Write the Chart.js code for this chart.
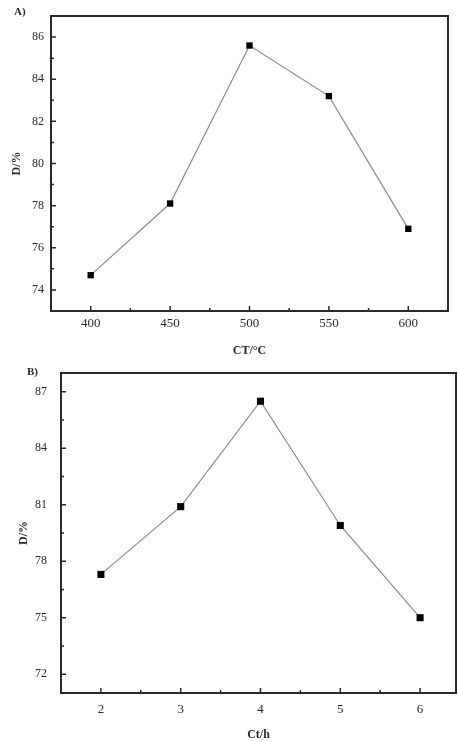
<!DOCTYPE html>
<html>
<head>
<meta charset="utf-8">
<script src="https://cdn.jsdelivr.net/npm/chart.js@4.4.1/dist/chart.umd.min.js"></script>
<style>
  html, body { margin: 0; padding: 0; background: #fff; overflow: hidden; }
  .panel { position: absolute; left: 0; }
  #wrapA { top: 0; width: 458px; height: 362px; }
  #wrapB { top: 362px; width: 458px; height: 380px; }
</style>
</head>
<body>
<div class="panel" id="wrapA"><canvas id="chartA"></canvas></div>
<div class="panel" id="wrapB"><canvas id="chartB"></canvas></div>
<script>
// Panel A: calcination temperature vs D/%
const tempCT = [400, 450, 500, 550, 600];
const dByTemp = [74.7, 78.1, 85.6, 83.2, 76.9];
const tempTicks = [400, 450, 500, 550, 600];
const dTicksA = [74, 76, 78, 80, 82, 84, 86];

// Panel B: calcination time vs D/%
const timeCt = [2, 3, 4, 5, 6];
const dByTime = [77.3, 80.9, 86.5, 79.9, 75.0];
const timeTicks = [2, 3, 4, 5, 6];
const dTicksB = [72, 75, 78, 81, 84, 87];

const SERIF = '"Liberation Serif", "DejaVu Serif", serif';
const INK = '#2a2a2a';

// Frame around the plot area plus inward major/minor tick marks
const frameTicks = {
  id: 'frameTicks',
  afterDraw(chart) {
    const { ctx, chartArea: a, scales } = chart;
    const xs = scales.x, ys = scales.y;
    ctx.save();
    ctx.strokeStyle = INK;
    ctx.lineWidth = 2;
    ctx.strokeRect(a.left, a.top, a.right - a.left, a.bottom - a.top);
    ctx.lineWidth = 1.5;
    const xMaj = xs.ticks.map(t => t.value);
    const yMaj = ys.ticks.map(t => t.value);
    const mids = arr => arr.slice(1).map((v, i) => (v + arr[i]) / 2);
    const xMin = mids(xMaj), yMin = mids(yMaj);
    ctx.beginPath();
    xMaj.forEach(v => { const p = xs.getPixelForValue(v); ctx.moveTo(p, a.bottom); ctx.lineTo(p, a.bottom - 5); });
    xMin.forEach(v => { const p = xs.getPixelForValue(v); ctx.moveTo(p, a.bottom); ctx.lineTo(p, a.bottom - 3); });
    yMaj.forEach(v => { const p = ys.getPixelForValue(v); ctx.moveTo(a.left, p); ctx.lineTo(a.left + 5, p); });
    yMin.forEach(v => { const p = ys.getPixelForValue(v); ctx.moveTo(a.left, p); ctx.lineTo(a.left + 3, p); });
    ctx.stroke();
    // panel letter
    ctx.fillStyle = INK;
    ctx.font = 'bold 11px ' + SERIF;
    ctx.textBaseline = 'middle';
    ctx.textAlign = 'left';
    const lab = chart.options.plugins.frameTicks;
    ctx.fillText(lab.text, lab.x, lab.y);
    ctx.restore();
  }
};

// fixed axis box sizes; label overhang is not allowed to shrink the plot area
function fixBox(s, size, horizontal) {
  if (horizontal) s.height = size; else s.width = size;
  s.paddingTop = 0; s.paddingBottom = 0; s.paddingLeft = 0; s.paddingRight = 0;
}

function makeChart(id, cfg) {
  return new Chart(document.getElementById(id), {
    type: 'line',
    data: {
      datasets: [{
        data: cfg.xs.map((x, i) => ({ x, y: cfg.ys[i] })),
        borderColor: '#8a8a8a',
        borderWidth: 1.2,
        pointStyle: 'rect',
        pointRadius: cfg.pr,
        pointBackgroundColor: '#000',
        pointBorderColor: '#000',
        pointBorderWidth: 0,
        tension: 0
      }]
    },
    options: {
      responsive: true,
      maintainAspectRatio: false,
      animation: false,
      events: [],
      layout: { padding: cfg.pad, autoPadding: false },
      plugins: {
        legend: { display: false },
        tooltip: { enabled: false },
        frameTicks: cfg.label
      },
      scales: {
        x: {
          type: 'linear',
          min: cfg.xr[0], max: cfg.xr[1],
          afterBuildTicks: s => { s.ticks = cfg.xt.map(v => ({ value: v })); },
          afterFit: s => fixBox(s, cfg.xh, true),
          grid: { display: false, drawTicks: false },
          border: { display: false },
          ticks: { padding: cfg.xtp, color: INK, font: { family: SERIF, size: 13 } },
          title: { display: true, text: cfg.xTitle, color: INK, padding: { top: 0, bottom: cfg.xTitlePad },
                   font: { family: SERIF, size: 12, weight: 'bold' } }
        },
        y: {
          type: 'linear',
          min: cfg.yr[0], max: cfg.yr[1],
          afterBuildTicks: s => { s.ticks = cfg.yt.map(v => ({ value: v })); },
          afterFit: s => fixBox(s, cfg.yw, false),
          grid: { display: false, drawTicks: false },
          border: { display: false },
          ticks: { padding: cfg.ytp, color: INK, font: { family: SERIF, size: 12 } },
          title: { display: true, text: 'D/%', color: INK, padding: { top: cfg.yTitlePad, bottom: 0 },
                   font: { family: SERIF, size: 12, weight: 'bold' } }
        }
      }
    },
    plugins: [frameTicks]
  });
}

makeChart('chartA', {
  xs: tempCT, ys: dByTemp, pr: 4.5,
  xr: [375, 625], yr: [73, 87], xt: tempTicks, yt: dTicksA,
  pad: { left: 0, top: 16, right: 10, bottom: 0 },
  xh: 51, yw: 51, xtp: 5, ytp: 7, xTitlePad: 4, yTitlePad: 10,
  xTitle: 'CT/°C',
  label: { text: 'A)', x: 14, y: 12 }
});

makeChart('chartB', {
  xs: timeCt, ys: dByTime, pr: 5,
  xr: [1.5, 6.45], yr: [71, 88], xt: timeTicks, yt: dTicksB,
  pad: { left: 0, top: 11, right: 2, bottom: 0 },
  xh: 49, yw: 61, xtp: 9, ytp: 14, xTitlePad: 0, yTitlePad: 17,
  xTitle: 'Ct/h',
  label: { text: 'B)', x: 27, y: 10 }
});
</script>
</body>
</html>
